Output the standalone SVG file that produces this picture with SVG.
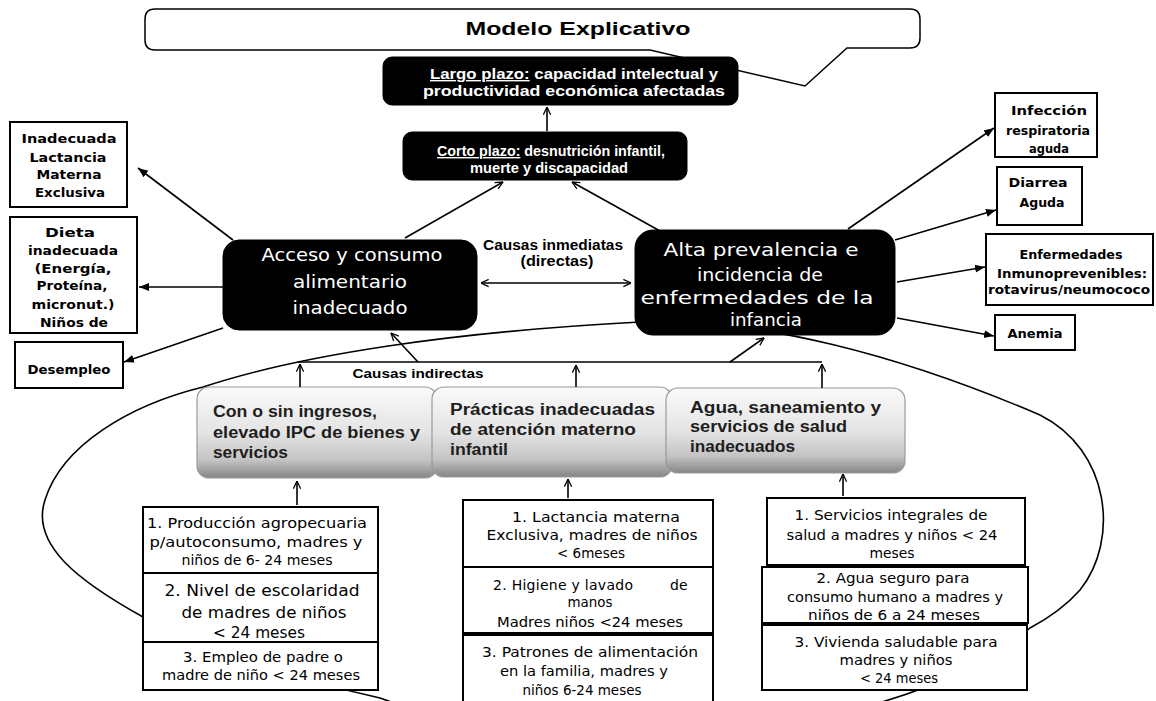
<svg xmlns="http://www.w3.org/2000/svg" width="1156" height="701" viewBox="0 0 1156 701">
<style>
.bg{fill:#fff}
.cal{font-family:'Liberation Sans',Arial,sans-serif;font-weight:bold}
.com{font-family:'DejaVu Sans','Liberation Sans',sans-serif}
.w{fill:#fff}
.k{fill:#000}
.g{fill:#1e1e1e}
.mid{text-anchor:middle}
.blk{fill:#000;stroke:#000}
.wbox{fill:#fff;stroke:#000;stroke-width:2}
.gbox{fill:url(#gr);stroke:#9a9a9a;stroke-width:1.2}
.ln{fill:none;stroke:#000;stroke-width:1.6}
.u{text-decoration:underline}
</style>
<defs>
<linearGradient id="gr" x1="0" y1="0" x2="0" y2="1">
<stop offset="0" stop-color="#fafafa"/>
<stop offset="0.5" stop-color="#e4e4e4"/>
<stop offset="0.8" stop-color="#c4c4c4"/>
<stop offset="1" stop-color="#858585"/>
</linearGradient>
<marker id="ao" viewBox="0 0 10 10" refX="9.5" refY="5" markerWidth="9" markerHeight="9" markerUnits="userSpaceOnUse" orient="auto-start-reverse">
<path d="M1,1 L9.5,5 L1,9" fill="none" stroke="#000" stroke-width="1.4"/>
</marker>
<marker id="as" viewBox="0 0 10 10" refX="10" refY="5" markerWidth="10" markerHeight="10" markerUnits="userSpaceOnUse" orient="auto">
<path d="M0,1 L10,5 L0,9 Z" fill="#000"/>
</marker>
</defs>
<rect class="bg" x="0" y="0" width="1156" height="701"/>

<g id="ellipse">
<path class="ln" d="M380,698 C300,680 200,650 143,617 C80,582 30,545 45,500 C62,445 130,405 203,387 C300,355 450,332 640,322 C760,318 900,355 1040,415 C1110,450 1120,540 1080,590 C1065,607 1045,620 1030,628 C960,690 800,740 600,740 C480,740 420,712 380,698 Z"/>
</g>

<g id="title">
<path d="M155,9 H910 Q920,9 920,19 V38 Q920,48 910,48 H847 L805,86 L650,50 H155 Q145,50 145,40 V19 Q145,9 155,9 Z" fill="#fff" stroke="#000" stroke-width="1.5"/>
<text class="cal k mid" x="578" y="35" font-size="18" textLength="225" lengthAdjust="spacingAndGlyphs">Modelo Explicativo</text>
</g>

<g id="largo">
<rect class="blk" x="383" y="57" width="355" height="48" rx="9"/>
<text class="cal w mid" x="574" y="79" font-size="14" textLength="288" lengthAdjust="spacingAndGlyphs"><tspan class="u">Largo plazo:</tspan> capacidad intelectual y</text>
<text class="cal w mid" x="574" y="96" font-size="14" textLength="302" lengthAdjust="spacingAndGlyphs">productividad económica afectadas</text>
</g>

<g id="corto">
<rect class="blk" x="403" y="132" width="284" height="48" rx="9"/>
<text class="cal w mid" x="551" y="156" font-size="14" textLength="228" lengthAdjust="spacingAndGlyphs"><tspan class="u">Corto plazo:</tspan> desnutrición infantil,</text>
<text class="cal w mid" x="549" y="173" font-size="14" textLength="158" lengthAdjust="spacingAndGlyphs">muerte  y discapacidad</text>
</g>

<g id="acceso">
<rect class="blk" x="223" y="240" width="254" height="90" rx="16"/>
<text class="com w mid" x="352" y="261" font-size="17" textLength="181" lengthAdjust="spacingAndGlyphs">Acceso y consumo</text>
<text class="com w mid" x="350" y="288" font-size="17" textLength="114" lengthAdjust="spacingAndGlyphs">alimentario</text>
<text class="com w mid" x="350" y="314" font-size="17" textLength="115" lengthAdjust="spacingAndGlyphs">inadecuado</text>
</g>

<g id="alta">
<rect class="blk" x="635" y="230" width="260" height="105" rx="18"/>
<text class="com w mid" x="761" y="256" font-size="17" textLength="195" lengthAdjust="spacingAndGlyphs">Alta prevalencia e</text>
<text class="com w mid" x="760" y="281" font-size="17" textLength="126" lengthAdjust="spacingAndGlyphs">incidencia de</text>
<text class="com w mid" x="757" y="304" font-size="17" textLength="233" lengthAdjust="spacingAndGlyphs">enfermedades de la</text>
<text class="com w mid" x="766" y="326" font-size="17" textLength="72" lengthAdjust="spacingAndGlyphs">infancia</text>
</g>

<g id="inmediatas">
<text class="cal k mid" x="553" y="250" font-size="14" textLength="140" lengthAdjust="spacingAndGlyphs">Causas inmediatas</text>
<text class="cal k mid" x="557" y="266" font-size="14" textLength="73" lengthAdjust="spacingAndGlyphs">(directas)</text>
</g>

<g id="lactancia">
<rect class="wbox" x="10" y="122" width="117" height="85"/>
<text class="com k mid" x="69" y="143" font-size="13" font-weight="bold" textLength="95" lengthAdjust="spacingAndGlyphs">Inadecuada</text>
<text class="com k mid" x="68" y="162" font-size="13" font-weight="bold" textLength="77" lengthAdjust="spacingAndGlyphs">Lactancia</text>
<text class="com k mid" x="69" y="179" font-size="13" font-weight="bold" textLength="65" lengthAdjust="spacingAndGlyphs">Materna</text>
<text class="com k mid" x="70" y="197" font-size="13" font-weight="bold" textLength="70" lengthAdjust="spacingAndGlyphs">Exclusiva</text>
</g>

<g id="dieta">
<rect class="wbox" x="10" y="217" width="127" height="116"/>
<text class="com k mid" x="70" y="237" font-size="13" font-weight="bold" textLength="50" lengthAdjust="spacingAndGlyphs">Dieta</text>
<text class="com k mid" x="73" y="255" font-size="13" font-weight="bold" textLength="90" lengthAdjust="spacingAndGlyphs">inadecuada</text>
<text class="com k mid" x="73" y="273" font-size="13" font-weight="bold" textLength="77" lengthAdjust="spacingAndGlyphs">(Energía,</text>
<text class="com k mid" x="72" y="290" font-size="13" font-weight="bold" textLength="71" lengthAdjust="spacingAndGlyphs">Proteína,</text>
<text class="com k mid" x="73" y="309" font-size="13" font-weight="bold" textLength="83" lengthAdjust="spacingAndGlyphs">micronut.)</text>
<text class="com k mid" x="74" y="327" font-size="13" font-weight="bold" textLength="68" lengthAdjust="spacingAndGlyphs">Niños de</text>
</g>

<g id="desempleo">
<rect class="wbox" x="15" y="342" width="108" height="46"/>
<text class="com k mid" x="69" y="374" font-size="13" font-weight="bold" textLength="83" lengthAdjust="spacingAndGlyphs">Desempleo</text>
</g>

<g id="infeccion">
<rect class="wbox" x="995" y="93" width="102" height="64"/>
<text class="com k mid" x="1049" y="115" font-size="13" font-weight="bold" textLength="76" lengthAdjust="spacingAndGlyphs">Infección</text>
<text class="com k mid" x="1048" y="135" font-size="13" font-weight="bold" textLength="84" lengthAdjust="spacingAndGlyphs">respiratoria</text>
<text class="com k mid" x="1049" y="153" font-size="13" font-weight="bold" textLength="40" lengthAdjust="spacingAndGlyphs">aguda</text>
</g>

<g id="diarrea">
<rect class="wbox" x="997" y="167" width="85" height="58"/>
<text class="com k mid" x="1038" y="187" font-size="13" font-weight="bold" textLength="59" lengthAdjust="spacingAndGlyphs">Diarrea</text>
<text class="com k mid" x="1042" y="207" font-size="13" font-weight="bold" textLength="45" lengthAdjust="spacingAndGlyphs">Aguda</text>
</g>

<g id="enfermedades">
<rect class="wbox" x="986" y="234" width="167" height="71"/>
<text class="com k mid" x="1071" y="259" font-size="12" font-weight="bold" textLength="103" lengthAdjust="spacingAndGlyphs">Enfermedades</text>
<text class="com k mid" x="1072" y="278" font-size="12" font-weight="bold" textLength="150" lengthAdjust="spacingAndGlyphs">Inmunoprevenibles:</text>
<text class="com k mid" x="1069" y="294" font-size="12" font-weight="bold" textLength="162" lengthAdjust="spacingAndGlyphs">rotavirus/neumococo</text>
</g>

<g id="anemia">
<rect class="wbox" x="995" y="315" width="80" height="35"/>
<text class="com k mid" x="1035" y="338" font-size="13" font-weight="bold" textLength="55" lengthAdjust="spacingAndGlyphs">Anemia</text>
</g>

<g id="indirectas">
<text class="cal k mid" x="418" y="378" font-size="13" textLength="131" lengthAdjust="spacingAndGlyphs">Causas indirectas</text>
</g>

<g id="ingresos">
<rect class="gbox" x="197" y="387" width="240" height="91" rx="12"/>
<text class="cal g" x="213" y="417" font-size="16" textLength="164" lengthAdjust="spacingAndGlyphs">Con o sin ingresos,</text>
<text class="cal g" x="213" y="438" font-size="16" textLength="207" lengthAdjust="spacingAndGlyphs">elevado IPC de bienes y</text>
<text class="cal g" x="213" y="458" font-size="16" textLength="75" lengthAdjust="spacingAndGlyphs">servicios</text>
</g>

<g id="practicas">
<rect class="gbox" x="432" y="387" width="240" height="90" rx="12"/>
<text class="cal g" x="450" y="415" font-size="16" textLength="205" lengthAdjust="spacingAndGlyphs">Prácticas  inadecuadas</text>
<text class="cal g" x="450" y="435" font-size="16" textLength="186" lengthAdjust="spacingAndGlyphs">de atención materno</text>
<text class="cal g" x="450" y="455" font-size="16" textLength="58" lengthAdjust="spacingAndGlyphs">infantil</text>
</g>

<g id="agua">
<rect class="gbox" x="666" y="388" width="239" height="85" rx="12"/>
<text class="cal g" x="690" y="413" font-size="16" textLength="191" lengthAdjust="spacingAndGlyphs">Agua,  saneamiento y</text>
<text class="cal g" x="690" y="432" font-size="16" textLength="157" lengthAdjust="spacingAndGlyphs">servicios  de salud</text>
<text class="cal g" x="690" y="452" font-size="16" textLength="105" lengthAdjust="spacingAndGlyphs">inadecuados</text>
</g>

<g id="col1">
<rect class="wbox" x="143" y="507" width="235" height="66"/>
<rect class="wbox" x="143" y="573" width="235" height="69"/>
<rect class="wbox" x="143" y="642" width="235" height="48"/>
<text class="com k mid" x="257" y="528" font-size="14" textLength="220" lengthAdjust="spacingAndGlyphs">1. Producción agropecuaria</text>
<text class="com k mid" x="256" y="547" font-size="14" textLength="213" lengthAdjust="spacingAndGlyphs">p/autoconsumo, madres y</text>
<text class="com k mid" x="257" y="565" font-size="14" textLength="151" lengthAdjust="spacingAndGlyphs">niños de 6- 24 meses</text>
<text class="com k mid" x="262" y="596" font-size="16" textLength="195" lengthAdjust="spacingAndGlyphs">2. Nivel de escolaridad</text>
<text class="com k mid" x="264" y="618" font-size="16" textLength="165" lengthAdjust="spacingAndGlyphs">de madres de niños</text>
<text class="com k mid" x="259" y="638" font-size="16" textLength="92" lengthAdjust="spacingAndGlyphs">&lt; 24 meses</text>
<text class="com k mid" x="263" y="662" font-size="14" textLength="160" lengthAdjust="spacingAndGlyphs">3. Empleo de padre o</text>
<text class="com k mid" x="261" y="680" font-size="14" textLength="198" lengthAdjust="spacingAndGlyphs">madre de niño &lt; 24 meses</text>
</g>

<g id="col2">
<rect class="wbox" x="463" y="500" width="250" height="67"/>
<rect class="wbox" x="463" y="567" width="250" height="66"/>
<rect class="wbox" x="463" y="635" width="250" height="70" stroke-width="3"/>
<text class="com k mid" x="596" y="522" font-size="14" textLength="168" lengthAdjust="spacingAndGlyphs">1. Lactancia materna</text>
<text class="com k mid" x="592" y="540" font-size="14" textLength="211" lengthAdjust="spacingAndGlyphs">Exclusiva, madres de niños</text>
<text class="com k mid" x="591" y="558" font-size="14" textLength="68" lengthAdjust="spacingAndGlyphs">&lt; 6meses</text>
<text class="com k" x="493" y="590" font-size="14" textLength="140" lengthAdjust="spacing">2. Higiene y lavado</text>
<text class="com k" x="670" y="590" font-size="14">de</text>
<text class="com k mid" x="590" y="607" font-size="14" textLength="45" lengthAdjust="spacingAndGlyphs">manos</text>
<text class="com k mid" x="590" y="627" font-size="14" textLength="186" lengthAdjust="spacingAndGlyphs">Madres niños &lt;24 meses</text>
<text class="com k mid" x="590" y="657" font-size="14" textLength="216" lengthAdjust="spacingAndGlyphs">3. Patrones de alimentación</text>
<text class="com k mid" x="584" y="676" font-size="14" textLength="168" lengthAdjust="spacingAndGlyphs">en la familia, madres y</text>
<text class="com k mid" x="582" y="695" font-size="14" textLength="119" lengthAdjust="spacingAndGlyphs">niños 6-24 meses</text>
</g>

<g id="col3">
<rect class="wbox" x="767" y="498" width="258" height="67"/>
<rect class="wbox" x="762" y="567" width="266" height="56" stroke-width="2.6"/>
<rect class="wbox" x="762" y="625" width="265" height="65"/>
<text class="com k mid" x="891" y="520" font-size="14" textLength="193" lengthAdjust="spacingAndGlyphs">1. Servicios integrales de</text>
<text class="com k mid" x="892" y="540" font-size="14" textLength="211" lengthAdjust="spacingAndGlyphs">salud a madres y niños &lt; 24</text>
<text class="com k mid" x="892" y="558" font-size="14" textLength="45" lengthAdjust="spacingAndGlyphs">meses</text>
<text class="com k mid" x="893" y="583" font-size="13.5" textLength="153" lengthAdjust="spacingAndGlyphs">2. Agua seguro para</text>
<text class="com k mid" x="895" y="602" font-size="13.5" textLength="216" lengthAdjust="spacingAndGlyphs">consumo humano a madres y</text>
<text class="com k mid" x="894" y="620" font-size="13.5" textLength="172" lengthAdjust="spacingAndGlyphs">niños de 6 a 24 meses</text>
<text class="com k mid" x="896" y="647" font-size="14" textLength="203" lengthAdjust="spacingAndGlyphs">3. Vivienda saludable para</text>
<text class="com k mid" x="896" y="665" font-size="14" textLength="113" lengthAdjust="spacingAndGlyphs">madres y niños</text>
<text class="com k mid" x="899" y="683" font-size="14" textLength="78" lengthAdjust="spacingAndGlyphs">&lt; 24 meses</text>
</g>

<g id="connectors">
<line class="ln" x1="547" y1="131" x2="547" y2="107" marker-end="url(#ao)"/>
<line class="ln" x1="405" y1="238" x2="503" y2="182" marker-end="url(#ao)"/>
<line class="ln" x1="660" y1="231" x2="572" y2="182" marker-end="url(#ao)"/>
<line class="ln" x1="481" y1="283" x2="631" y2="283" marker-start="url(#ao)" marker-end="url(#ao)"/>
<line class="ln" x1="233" y1="240" x2="138" y2="168" marker-end="url(#as)"/>
<line class="ln" x1="223" y1="287" x2="139" y2="287" marker-end="url(#as)"/>
<line class="ln" x1="223" y1="328" x2="124" y2="362" marker-end="url(#as)"/>
<line class="ln" x1="848" y1="229" x2="994" y2="128" marker-end="url(#as)"/>
<line class="ln" x1="895" y1="240" x2="996" y2="210" marker-end="url(#as)"/>
<line class="ln" x1="897" y1="282" x2="985" y2="267" marker-end="url(#as)"/>
<line class="ln" x1="897" y1="318" x2="994" y2="336" marker-end="url(#as)"/>
<polyline class="ln" points="298,362 822,362"/>
<line class="ln" x1="418" y1="362" x2="391" y2="333" marker-end="url(#ao)"/>
<line class="ln" x1="730" y1="362" x2="764" y2="338" marker-end="url(#ao)"/>
<line class="ln" x1="300" y1="387" x2="300" y2="364" marker-end="url(#ao)"/>
<line class="ln" x1="576" y1="387" x2="576" y2="365" marker-end="url(#ao)"/>
<line class="ln" x1="822" y1="388" x2="822" y2="364" marker-end="url(#ao)"/>
<line class="ln" x1="297" y1="505" x2="297" y2="481" marker-end="url(#ao)"/>
<line class="ln" x1="568" y1="498" x2="568" y2="479" marker-end="url(#ao)"/>
<line class="ln" x1="843" y1="496" x2="843" y2="474" marker-end="url(#ao)"/>
</g>
</svg>
